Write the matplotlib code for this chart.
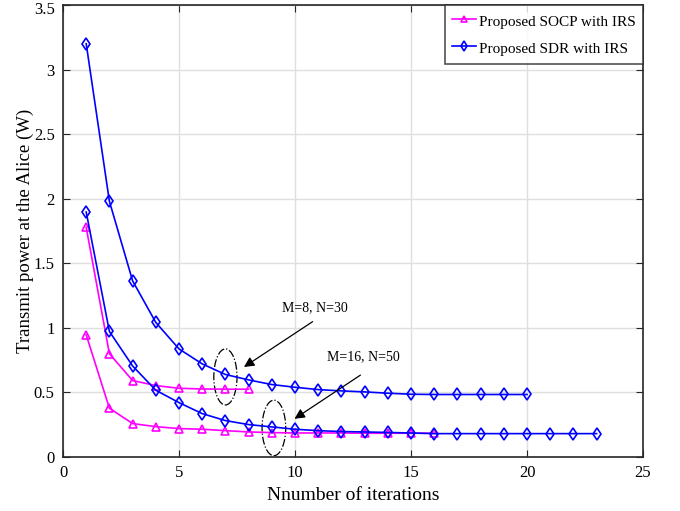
import matplotlib
matplotlib.use("Agg")
import matplotlib.pyplot as plt
import matplotlib.transforms as mtrans
from matplotlib.patches import Ellipse

plt.rcParams['font.family'] = ['Liberation Serif', 'DejaVu Serif']
plt.rcParams['mathtext.fontset'] = 'stix'

# Data
x_sdr_8 = list(range(1, 21))
y_sdr_8 = [3.20, 1.98, 1.364, 1.042, 0.837, 0.721, 0.639, 0.597, 0.561, 0.540,
           0.522, 0.512, 0.504, 0.494, 0.486, 0.484, 0.484, 0.484, 0.484, 0.484]
x_socp_8 = list(range(1, 9))
y_socp_8 = [1.778, 0.80, 0.592, 0.553, 0.532, 0.527, 0.525, 0.525]
x_sdr_16 = list(range(1, 24))
y_sdr_16 = [1.897, 0.972, 0.705, 0.517, 0.421, 0.336, 0.282, 0.251, 0.233, 0.215,
            0.204, 0.197, 0.194, 0.190, 0.186, 0.181, 0.181, 0.181, 0.181, 0.181,
            0.181, 0.181, 0.181]
x_socp_16 = list(range(1, 17))
y_socp_16 = [0.946, 0.378, 0.259, 0.235, 0.220, 0.215, 0.204, 0.194, 0.189, 0.186,
             0.186, 0.186, 0.184, 0.184, 0.184, 0.184]

label_socp = 'Proposed SOCP with IRS'
label_sdr = 'Proposed SDR with IRS'
xlabel = 'Nnumber of iterations'
ylabel = 'Transmit power at the Alice (W)'
xticks = [0, 5, 10, 15, 20, 25]
yticks = [0, 0.5, 1, 1.5, 2, 2.5, 3, 3.5]
yticklabels = ['0', '0.5', '1', '1.5', '2', '2.5', '3', '3.5']

fig = plt.figure(figsize=(6.8, 5.11), dpi=100)
ax = fig.add_axes([63/680, 1 - 457/511, (643-63)/680, (457-5)/511])

mag = '#FF00FF'
blu = '#0000FF'
kw_t = dict(color=mag, mfc='none', mec=mag, ms=6, mew=1.2, lw=1.2)
kw_d = dict(color=blu, mfc='none', mec=blu, ms=6.5, mew=1.2, lw=1.2)
ax.plot(x_socp_8, y_socp_8, '-^', label=label_socp, **kw_t)
ax.plot(x_sdr_8, y_sdr_8, '-d', label=label_sdr, **kw_d)
ax.plot(x_socp_16, y_socp_16, '-^', **kw_t)
ax.plot(x_sdr_16, y_sdr_16, '-d', **kw_d)

ax.set_xlim(0, 25)
ax.set_ylim(0, 3.5)
ax.set_xticks(xticks)
ax.set_yticks(yticks)
ax.set_yticklabels(yticklabels)
ax.grid(True, color='#DFDFDF', lw=1.0)
ax.set_axisbelow(True)
ax.tick_params(direction='in', top=True, right=True, labelsize=12, length=5,
               color='#262626', pad=6)
for s in ax.spines.values():
    s.set_color('#262626')
    s.set_linewidth(1.2)
ax.set_xlabel(xlabel, fontsize=14, labelpad=4)
ax.set_ylabel(ylabel, fontsize=13.5, labelpad=0)

# nudge the top y tick label down slightly so it is not clipped
top_lbl = ax.get_yticklabels()[-1]
top_lbl.set_transform(top_lbl.get_transform() +
                      mtrans.ScaledTranslation(0, -3/100, fig.dpi_scale_trans))

# Ellipses
ax.add_patch(Ellipse((7.0, 0.62), 1.0, 0.434, fill=False, ec='black', ls='-.', lw=0.9))
ax.add_patch(Ellipse((9.09, 0.225), 1.02, 0.43, fill=False, ec='black', ls='-.', lw=0.9))

# Annotations
ax.annotate('', xy=(7.70, 0.685), xytext=(10.86, 1.06),
            arrowprops=dict(arrowstyle='-|>', color='black', lw=0.9, mutation_scale=15))
ax.text(9.44, 1.16, 'M=8, N=30', fontsize=10, va='center', ha='left')
ax.annotate('', xy=(9.88, 0.284), xytext=(12.92, 0.646),
            arrowprops=dict(arrowstyle='-|>', color='black', lw=0.9, mutation_scale=15))
ax.text(11.37, 0.78, 'M=16, N=50', fontsize=10, va='center', ha='left',
        bbox=dict(facecolor='white', edgecolor='none', pad=1))

leg = ax.legend(loc='upper right', fontsize=11, frameon=True, fancybox=False,
                edgecolor='#262626', borderaxespad=0, handlelength=1.55,
                handleheight=1.5, handletextpad=0.25, borderpad=0.45,
                labelspacing=0.55, markerscale=0.8)
leg.get_frame().set_linewidth(1.2)

fig.savefig('out.png', dpi=100)
